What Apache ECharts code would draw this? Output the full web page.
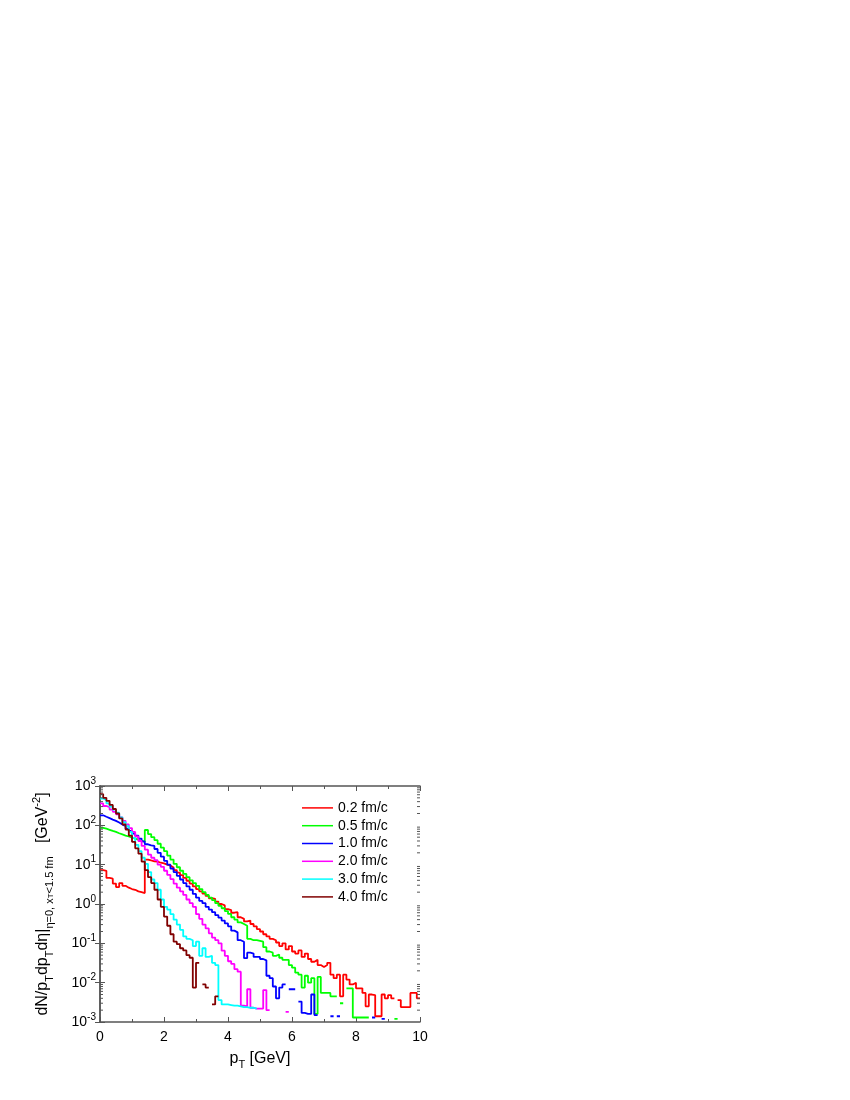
<!DOCTYPE html>
<html>
<head>
<meta charset="utf-8">
<script src="https://cdn.jsdelivr.net/npm/echarts@6/dist/echarts.min.js"></script>
<style>
html,body{margin:0;padding:0;background:#fff;}
#chart{width:850px;height:1100px;}
</style>
</head>
<body>
<div id="chart"></div>
<script>
// ---- data: histogram bins, width 0.1 GeV, starting at pT = 0 ----
const binWidth = 0.1;
const seriesNames = ['0.2 fm/c', '0.5 fm/c', '1.0 fm/c', '2.0 fm/c', '3.0 fm/c', '4.0 fm/c'];
const seriesColors = ['#ff0000', '#00ff00', '#0000ff', '#ff00ff', '#00ffff', '#800000'];

const red = [
  7.3, 7.0, 4.6, 4.4, 3.3, 2.7, 3.4, 2.9, 2.6, 2.4,
  2.3, 2.1, 2.0, 1.9, 13.5, 12.8, 12.2, 12.0, 11.2, 10.8,
  10.0, 9.5, 8.5, 7.3, 6.3, 5.4, 4.6, 3.9, 3.3, 2.8,
  2.4, 2.1, 1.85, 1.6, 1.4, 1.35, 1.15, 1.0, 0.92, 0.74,
  0.70, 0.60, 0.62, 0.46, 0.42, 0.36, 0.38, 0.31, 0.27, 0.23,
  0.20, 0.17, 0.15, 0.13, 0.12, 0.105, 0.085, 0.10, 0.07, 0.085,
  0.062, 0.055, 0.066, 0.045, 0.055, 0.040, 0.034, 0.038, 0.028, 0.025,
  0.028, 0.032, 0.016, 0.013, 0.016, 0.0045, 0.016, 0.012, 0.009, 0.010,
  0.0072, 0.0072, 0.0055, 0.0025, 0.0050, 0.0048, 0.0014, 0.0014, 0.0050, 0.0040,
  0.0048, 0.0040, null, 0.0036, 0.0024, 0.0024, 0.0024, 0.0055, 0.0055, 0.0040
];
const green = [
  86, 82, 77, 72, 68, 63, 59, 55, 52, 49,
  46, 43, 40, 38, 76, 60, 50, 42, 34, 27,
  22, 17, 13.5, 10.5, 8.6, 7.0, 5.8, 4.8, 4.0, 3.4,
  2.9, 2.4, 2.0, 1.7, 1.45, 1.25, 1.05, 0.90, 0.78, 0.66,
  0.56, 0.46, 0.40, 0.34, 0.31, 0.28, 0.13, 0.12, 0.12, 0.115,
  0.11, 0.08, 0.062, 0.058, 0.048, 0.052, 0.043, 0.038, 0.038, 0.028,
  0.024, 0.018, 0.016, 0.0075, 0.015, 0.010, 0.013, 0.0016, 0.014, 0.0055,
  0.0055, 0.0055, 0.0045, 0.0045, null, 0.003, null, 0.0072, 0.0072, 0.0013,
  0.0013, 0.0013, 0.0013, 0.0013, null, null, null, null, null, null,
  null, null, 0.0012, null, null, null, null, null, null, null
];
const blue = [
  180, 165, 152, 140, 130, 118, 105, 95, 82, 72,
  62, 55, 46, 39, 33, 31, 30, 25, 20, 16,
  12.5, 10, 8.0, 6.5, 5.2, 4.2, 3.4, 2.8, 2.3, 1.8,
  1.45, 1.2, 1.05, 0.85, 0.72, 0.62, 0.52, 0.45, 0.38, 0.32,
  0.27, 0.21, 0.19, 0.12, 0.11, 0.042, 0.058, 0.055, 0.045, 0.045,
  0.040, 0.037, 0.015, 0.013, 0.008, 0.004, 0.0075, 0.009, null, 0.0068,
  0.0068, null, 0.0033, 0.0017, 0.0016, 0.0016, 0.0050, 0.0015, null, null,
  null, null, 0.0014, null, 0.0014, null, null, null, null, null,
  null, null, null, null, null, 0.0013, null, null, 0.0012, null,
  null, null, null, null, null, null, null, null, null, null
];
const magenta = [
  360, 310, 290, 250, 220, 190, 160, 130, 105, 85,
  68, 52, 40, 30, 24, 18, 15, 13, 10, 8.8,
  7.0, 5.5, 4.3, 3.3, 2.6, 2.1, 1.7, 1.3, 1.05, 0.85,
  0.55, 0.42, 0.30, 0.24, 0.18, 0.14, 0.12, 0.10, 0.065, 0.048,
  0.035, 0.030, 0.022, 0.019, 0.0026, 0.0025, 0.0068, 0.0023, 0.0022, 0.0022,
  0.0022, 0.0065, 0.0020, null, null, null, null, null, 0.0018, null,
  null, null, null, null, null, null, null, null, null, null,
  null, null, null, null, null, null, null, null, null, null,
  null, null, null, null, null, null, null, null, null, null,
  null, null, null, null, null, null, null, null, null, null
];
const cyan = [
  480, 440, 360, 300, 250, 210, 160, 120, 95, 68,
  48, 32, 22, 15, 10.5, 6.5, 4.2, 3.4, 2.3, 1.3,
  0.85, 0.72, 0.55, 0.40, 0.30, 0.22, 0.15, 0.13, 0.12, 0.085,
  0.11, 0.048, 0.075, 0.045, 0.048, 0.032, 0.028, 0.0036, 0.0028, 0.0028,
  0.0027, 0.0026, 0.0026, 0.0025, 0.0024, 0.0024, 0.0023, 0.0023, 0.0022, null,
  null, null, null, null, null, null, null, null, null, null,
  null, null, null, null, null, null, null, null, null, null,
  null, null, null, null, null, null, null, null, null, null,
  null, null, null, null, null, null, null, null, null, null,
  null, null, null, null, null, null, null, null, null, null
];
const brown = [
  620, 500, 420, 330, 260, 200, 150, 105, 78, 55,
  38, 26, 19, 12, 7.3, 4.8, 3.4, 2.3, 1.3, 0.85,
  0.48, 0.28, 0.17, 0.11, 0.095, 0.075, 0.066, 0.050, 0.043, 0.0075,
  0.032, null, 0.009, 0.0075, null, 0.0028, 0.0045, null, null, null,
  null, null, null, null, null, null, null, null, null, null,
  null, null, null, null, null, null, null, null, null, null,
  null, null, null, null, null, null, null, null, null, null,
  null, null, null, null, null, null, null, null, null, null,
  null, null, null, null, null, null, null, null, null, null,
  null, null, null, null, null, null, null, null, null, null
];
const allBins = [red, green, blue, magenta, cyan, brown];

const xTicks = [0, 2, 4, 6, 8, 10];
const yDecades = [-3, -2, -1, 0, 1, 2, 3];

// ---- build step-histogram point lists ----
function histPoints(vals) {
  const pts = [];
  let gap = false;
  for (let i = 0; i < vals.length; i++) {
    const v = vals[i];
    const x0 = +(i * binWidth).toFixed(2);
    const x1 = +((i + 1) * binWidth).toFixed(2);
    if (v == null) {
      if (!gap) { pts.push([x0, null]); gap = true; }
    } else {
      pts.push([x0, v]);
      pts.push([x1, v]);
      gap = false;
    }
  }
  return pts;
}

// minor log tick values (2..9 x 10^n)
const minorVals = [];
for (let e = -3; e < 3; e++) {
  for (let m = 2; m <= 9; m++) minorVals.push(m * Math.pow(10, e));
}

const FONT = 'Liberation Sans, Arial, sans-serif';
const AXIS_COLOR = '#555';

const chart = echarts.init(document.getElementById('chart'), null, { renderer: 'canvas' });

const series = allBins.map((vals, k) => ({
  name: seriesNames[k],
  type: 'line',
  data: histPoints(vals),
  symbol: 'none',
  connectNulls: false,
  lineStyle: { color: seriesColors[k], width: 1.8 },
  itemStyle: { color: seriesColors[k] },
  animation: false,
  z: 3
}));

series.push({
  type: 'custom',
  name: 'minorTicks',
  data: minorVals.map(v => [0, v]),
  silent: true,
  animation: false,
  clip: false,
  z: 5,
  renderItem: function (params, api) {
    const v = api.value(1);
    const pL = api.coord([0, v]);
    const pR = api.coord([10, v]);
    const st = { stroke: AXIS_COLOR, lineWidth: 1 };
    return {
      type: 'group',
      children: [
        { type: 'line', shape: { x1: pL[0], y1: pL[1], x2: pL[0] + 3, y2: pL[1] }, style: st },
        { type: 'line', shape: { x1: pR[0], y1: pR[1], x2: pR[0] - 3, y2: pR[1] }, style: st }
      ]
    };
  }
});

const axisLineStyle = { lineStyle: { color: AXIS_COLOR, width: 1.5 } };

const option = {
  backgroundColor: '#ffffff',
  animation: false,
  textStyle: { fontFamily: FONT },
  grid: { left: 100, top: 786, width: 320, height: 236, containLabel: false },
  legend: {
    orient: 'vertical',
    left: 302,
    top: 799,
    padding: 0,
    icon: 'rect',
    itemWidth: 31,
    itemHeight: 1.5,
    itemGap: 0,
    textStyle: { fontSize: 14, color: '#000', fontFamily: FONT, lineHeight: 17.8, padding: [0, 0, 0, 0] },
    data: seriesNames
  },
  xAxis: [
    {
      type: 'value', position: 'bottom', min: 0, max: 10, interval: 2,
      axisLine: axisLineStyle,
      axisTick: { inside: true, length: 5, lineStyle: { color: AXIS_COLOR } },
      minorTick: { show: true, splitNumber: 2, length: 3, lineStyle: { color: AXIS_COLOR } },
      splitLine: { show: false },
      axisLabel: { fontSize: 14, color: '#000', margin: 8, fontFamily: FONT },
      name: '{m|p}{s|T}{m| [GeV]}',
      nameLocation: 'middle',
      nameGap: 26,
      nameTextStyle: {
        rich: {
          m: { fontSize: 16, fontFamily: FONT, color: '#000', lineHeight: 22 },
          s: { fontSize: 11, fontFamily: FONT, color: '#000', lineHeight: 11, verticalAlign: 'bottom' }
        }
      }
    },
    {
      type: 'value', position: 'top', min: 0, max: 10, interval: 2,
      axisLine: axisLineStyle,
      axisTick: { inside: true, length: 5, lineStyle: { color: AXIS_COLOR } },
      minorTick: { show: true, splitNumber: 2, length: 3, lineStyle: { color: AXIS_COLOR } },
      splitLine: { show: false },
      axisLabel: { show: false }
    }
  ],
  yAxis: [
    {
      type: 'log', logBase: 10, min: 0.001, max: 1000, position: 'left',
      axisLine: axisLineStyle,
      axisTick: { inside: true, length: 5, lineStyle: { color: AXIS_COLOR } },
      splitLine: { show: false },
      axisLabel: {
        margin: 4,
        formatter: function (v) {
          const e = Math.round(Math.log10(v));
          return '{b|10}{e|' + e + '}';
        },
        rich: {
          b: { fontSize: 14, fontFamily: FONT, color: '#000', lineHeight: 20 },
          e: { fontSize: 10, fontFamily: FONT, color: '#000', lineHeight: 10, verticalAlign: 'top' }
        }
      },
      name: '{m|dN/p}{s|T}{m|dp}{s|T}{m|dη|}{s|η=0, x}{ss|T}{s|<1.5 fm}{m|   [GeV}{u|-2}{m|]}',
      nameLocation: 'middle',
      nameRotate: 90,
      nameGap: 45,
      nameTextStyle: {
        rich: {
          m: { fontSize: 16, fontFamily: FONT, color: '#000', lineHeight: 24 },
          s: { fontSize: 11, fontFamily: FONT, color: '#000', lineHeight: 11, verticalAlign: 'bottom' },
          ss: { fontSize: 8, fontFamily: FONT, color: '#000', lineHeight: 8, verticalAlign: 'bottom' },
          u: { fontSize: 11, fontFamily: FONT, color: '#000', lineHeight: 11, verticalAlign: 'top' }
        }
      }
    },
    {
      type: 'log', logBase: 10, min: 0.001, max: 1000, position: 'right',
      axisLine: axisLineStyle,
      axisTick: { inside: true, length: 5, lineStyle: { color: AXIS_COLOR } },
      splitLine: { show: false },
      axisLabel: { show: false }
    }
  ],
  series: series
};

chart.setOption(option);
</script>
</body>
</html>
